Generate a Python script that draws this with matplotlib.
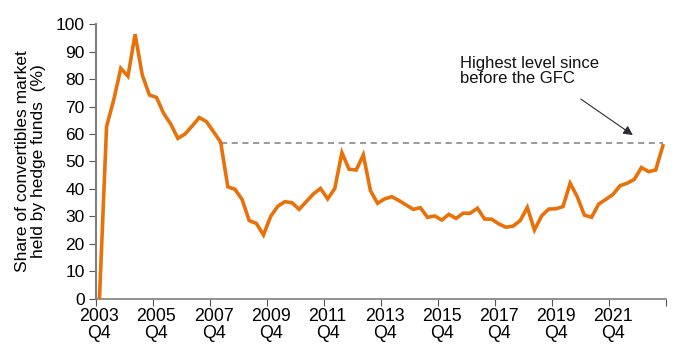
import matplotlib
matplotlib.use("Agg")
import matplotlib.pyplot as plt
import numpy as np

plt.rcParams["font.family"] = ["Liberation Sans", "DejaVu Sans"]

# quarterly share of convertibles market held by hedge funds, 2003 Q4 onwards
share = [
    0.0, 62.7, 72.4, 83.9, 81.0, 96.3, 81.5, 74.2, 73.3, 67.5,
    63.6, 58.4, 60.0, 62.9, 66.0, 64.5, 60.8, 57.0, 40.8, 39.9,
    36.2, 28.5, 27.5, 23.3, 30.0, 33.7, 35.4, 35.0, 32.6, 35.4,
    38.2, 40.2, 36.4, 40.2, 53.2, 47.2, 46.9, 52.4, 39.4, 34.8,
    36.4, 37.2, 35.8, 34.2, 32.6, 33.2, 29.7, 30.2, 28.7, 30.8,
    29.3, 31.2, 31.2, 33.0, 29.1, 29.0, 27.3, 26.1, 26.5, 28.5,
    33.3, 25.1, 30.2, 32.7, 32.8, 33.6, 42.1, 37.2, 30.5, 29.7,
    34.5, 36.2, 38.0, 41.2, 42.1, 43.5, 47.8, 46.3, 46.9, 55.7,
]
tick_labels = ["2003\nQ4", "2005\nQ4", "2007\nQ4", "2009\nQ4", "2011\nQ4",
               "2013\nQ4", "2015\nQ4", "2017\nQ4", "2019\nQ4", "2021\nQ4"]
gfc_level = 56.6   # pre-GFC reference level (2008 Q1)
gfc_start = 17

x = np.arange(len(share))

fig = plt.figure(figsize=(6.8, 3.53), dpi=100)
ax = fig.add_axes([0.141, 0.153, 0.839, 0.779])

ax.plot(x, share, color="#E8710A", lw=2.6, solid_joinstyle="miter", zorder=3)
ax.plot([gfc_start, x[-1]], [gfc_level, gfc_level], color="#7f7f7f",
        lw=1.1, ls=(0, (4, 3)), zorder=2)

ax.annotate("", xy=(74.8, 59.6), xytext=(67.5, 72.7),
            arrowprops=dict(arrowstyle="-|>", color="#2b2b35", lw=0.8,
                            mutation_scale=14, shrinkA=0, shrinkB=0))
ax.text(50.5, 88.5, "Highest level since\nbefore the GFC", fontsize=12,
        ha="left", va="top", linespacing=1.05, color="#111111")

ax.set_xlim(-0.5, len(share) - 0.5)
ax.set_ylim(0, 100)
ax.set_yticks(np.arange(0, 101, 10))
ax.set_xticks(np.arange(-0.5, len(share), 8))
ax.set_xticklabels([])
ax.set_xticks(np.arange(0, len(share), 8)[:len(tick_labels)], minor=True)
ax.set_xticklabels(tick_labels, minor=True, fontsize=12.8, linespacing=1.02)
ax.tick_params(axis="x", which="minor", length=0, pad=6.5)
ax.tick_params(axis="x", which="major", length=5, color="#555555")
ax.tick_params(axis="y", length=5, color="#555555", labelsize=12.5, pad=3)

for s in ["top", "right"]:
    ax.spines[s].set_visible(False)
ax.spines["left"].set_color("#7f7f7f")
ax.spines["left"].set_linewidth(1.5)
ax.spines["bottom"].set_color("#7f7f7f")
ax.spines["bottom"].set_linewidth(1.2)

ax.set_ylabel("Share of convertibles market\nheld by hedge funds  (%)",
              fontsize=12.5, labelpad=7, linespacing=1.1)

plt.savefig("out.png", dpi=100)
